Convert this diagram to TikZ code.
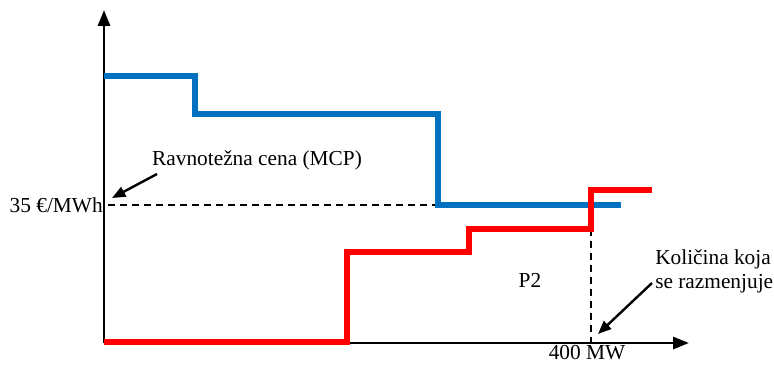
\documentclass[tikz,border=0pt]{standalone}
\usepackage{fontspec}
\setmainfont{Liberation Serif}
\usetikzlibrary{arrows.meta}
\definecolor{offerblue}{RGB}{0,112,192}
\tikzset{
  axis/.style={line width=2.2pt, -{Triangle[length=12pt,width=9pt]}},
  note/.style={line width=1.8pt, -{Triangle[length=10pt,width=8pt]}},
  guide/.style={line width=1.1pt, dash pattern=on 5.5pt off 3.5pt},
  lbl/.style={inner sep=0pt, font=\fontsize{16}{18}\selectfont}
}
\begin{document}
\begin{tikzpicture}[x=0.75pt, y=-0.75pt]
        \useasboundingbox (0,0) rectangle (774,367);
        % axes
        \coordinate (origin) at (104,343);
        \draw[axis] (origin) -- (104,10);
        \draw[axis] (origin) -- (689,343);
        % guide lines
        \draw[guide] (108,205) -- (438,205);
        \draw[guide] (591,229) -- (591,343);
        % offer curve
        \draw[offerblue, line width=3.8pt] (104,76) -- (195,76) -- (195,114)
            -- (438,114) -- (438,205) -- (621,205);
        % demand curve
        \draw[red, line width=3.8pt] (104,342) -- (347,342) -- (347,252)
            -- (469,252) -- (469,229) -- (591,229) -- (591,190) -- (652,190);
        % labels
        \node[lbl, anchor=east] (price) at (103,205) {35 €/MWh};
        \node[lbl] (mcp) at (257,160) {Ravnotežna cena (MCP)};
        \node[lbl] (ptwo) at (530,280) {P2};
        \node[lbl, anchor=north] (qty) at (587,345) {400 MW};
        \node[lbl, align=left, anchor=west] (amount) at (655,271)
            {Količina koja\\se razmenjuje};
        \coordinate (mcptip) at (112,198);
        \coordinate (qtytip) at (598,334);
        \draw[note] (157,174) -- (mcptip);
        \draw[note] (652,283) -- (qtytip);
\end{tikzpicture}
\end{document}
